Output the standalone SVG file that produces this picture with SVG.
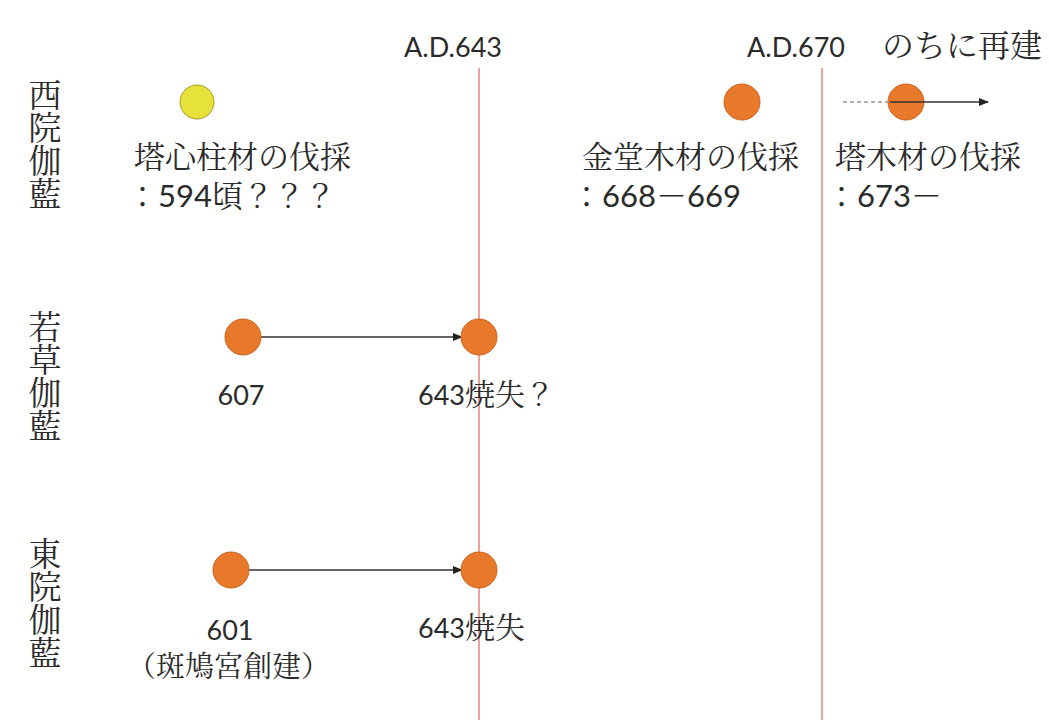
<svg xmlns="http://www.w3.org/2000/svg" width="1049" height="720" viewBox="0 0 1049 720">
<style>
.cjk{font-family:"Noto Serif CJK JP","Noto Sans CJK JP","Noto Sans CJK SC",sans-serif;fill:#2b2b2b;}
.mix{font-family:Lato,"Noto Serif CJK JP","Noto Sans CJK JP",sans-serif;fill:#2b2b2b;}
.lbl{font-size:31px;}
.num{font-size:27px;}
.side{font-size:33px;writing-mode:vertical-rl;}
.dot{fill:#e8792a;stroke:#c9631c;stroke-width:1;}
.ydot{fill:#e6e23a;stroke:#a99a2a;stroke-width:1;}
.conn{stroke:#333;stroke-width:1.5;fill:none;}
.era{stroke:#d9453f;stroke-width:1;}
</style>
<defs>
<marker id="ah" markerWidth="10" markerHeight="8" refX="9" refY="4" orient="auto" markerUnits="userSpaceOnUse">
<path d="M0,0 L10,4 L0,8 Z" fill="#222"/>
</marker>
</defs>
<rect width="1049" height="720" fill="#ffffff"/>

<g id="timelines">
<line class="era" x1="479" y1="68" x2="479" y2="720"/>
<line class="era" x1="822" y1="68" x2="822" y2="720"/>
<text class="mix num" x="453" y="57" text-anchor="middle">A.D.643</text>
<text class="mix num" x="796" y="57" text-anchor="middle">A.D.670</text>
<text class="cjk" x="882" y="57" style="font-size:32px">のちに再建</text>
</g>

<g id="row-labels">
<text class="cjk side" x="45" y="78">西院伽藍</text>
<text class="cjk side" x="45" y="310">若草伽藍</text>
<text class="cjk side" x="45" y="537">東院伽藍</text>
</g>

<g id="connectors">
<line class="conn" x1="261" y1="337" x2="462" y2="337" marker-end="url(#ah)"/>
<line class="conn" x1="249" y1="570" x2="462" y2="570" marker-end="url(#ah)"/>
<line x1="843" y1="102" x2="890" y2="102" stroke="#666" stroke-width="1.2" stroke-dasharray="4,3"/>
</g>

<g id="node-toshinbashira">
<circle class="ydot" cx="197" cy="102" r="17"/>
<text class="cjk lbl" x="134" y="168">塔心柱材の伐採</text>
<text class="mix lbl" x="127" y="207">：594頃？？？</text>
</g>

<g id="node-kondo">
<circle class="dot" cx="742" cy="102" r="18"/>
<text class="cjk lbl" x="582" y="168">金堂木材の伐採</text>
<text class="mix lbl" x="571" y="207">：668－669</text>
</g>

<g id="node-to">
<circle class="dot" cx="906" cy="102" r="18"/>
<line class="conn" x1="890" y1="102" x2="988" y2="102" marker-end="url(#ah)"/>
<text class="cjk lbl" x="835" y="168">塔木材の伐採</text>
<text class="mix lbl" x="826" y="207">：673－</text>
</g>

<g id="node-wakakusa-607">
<circle class="dot" cx="243" cy="337" r="18"/>
<text class="mix num" x="241" y="405" text-anchor="middle">607</text>
</g>

<g id="node-wakakusa-643">
<circle class="dot" cx="479" cy="337" r="18"/>
<text class="mix num" x="418" y="405">643<tspan style="font-size:30px">焼失？</tspan></text>
</g>

<g id="node-toin-601">
<circle class="dot" cx="231" cy="570" r="18"/>
<text class="mix num" x="230" y="640" text-anchor="middle">601</text>
<text class="cjk" x="127" y="677" style="font-size:29px">（斑鳩宮創建）</text>
</g>

<g id="node-toin-643">
<circle class="dot" cx="479" cy="570" r="18"/>
<text class="mix num" x="418" y="638">643<tspan style="font-size:30px">焼失</tspan></text>
</g>
</svg>
